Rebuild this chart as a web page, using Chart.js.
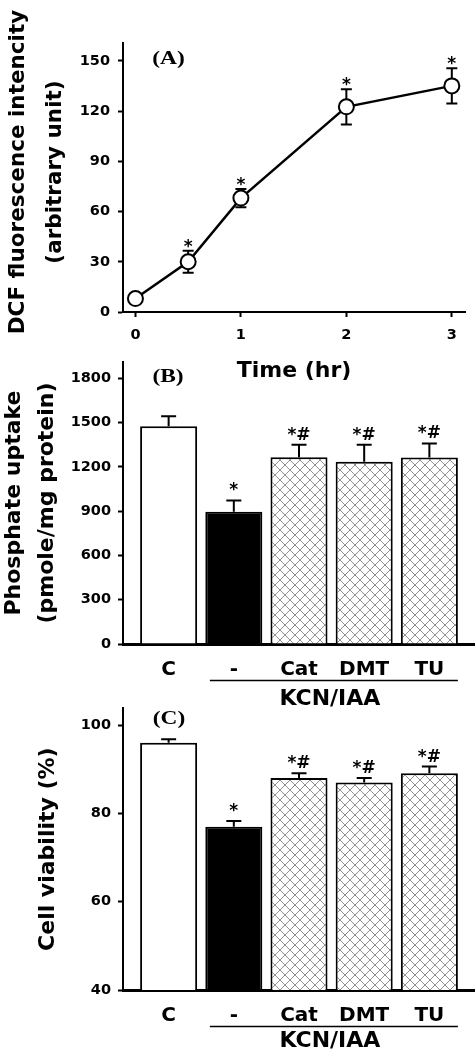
<!DOCTYPE html>
<html>
<head>
<meta charset="utf-8">
<script src="https://cdn.jsdelivr.net/npm/chart.js@4.4.1/dist/chart.umd.min.js"></script>
<style>
  body { margin: 0; background: #fff; }
  #page { position: relative; width: 475px; height: 1056px; overflow: hidden; background: #fff; }
  .panel { position: absolute; left: 0; width: 475px; }
</style>
</head>
<body>
<div id="page">
  <div class="panel" style="top:0;height:390px"><canvas id="chartA"></canvas></div>
  <div class="panel" style="top:320px;height:392px"><canvas id="chartB"></canvas></div>
  <div class="panel" style="top:670px;height:386px"><canvas id="chartC"></canvas></div>
</div>
<script>
// panel A - DCF fluorescence over time
const timePoints = [0, 0.5, 1, 2, 3];
const dcfMean = [8, 30, 68, 122.5, 135];
const dcfErr = [2, 6.5, 5.5, 10.5, 10.5];
const dcfMarks = ['', '*', '*', '*', '*'];
const dcfTicks = [0, 30, 60, 90, 120, 150];
const timeTicks = [0, 1, 2, 3];

// panel B and C - groups
const groups = ['C', '-', 'Cat', 'DMT', 'TU'];
const uptakeMean = [1475, 895, 1265, 1235, 1263];
const uptakeErr = [68, 77, 84, 115, 95];
const uptakeMarks = ['', '*', '*#', '*#', '*#'];
const uptakeTicks = [0, 300, 600, 900, 1200, 1500, 1800];

const viabilityMean = [96, 77, 88, 87, 89.1];
const viabilityErr = [0.8, 1.3, 1.1, 1.0, 1.5];
const viabilityMarks = ['', '*', '*#', '*#', '*#'];
const viabilityTicks = [40, 60, 80, 100];

Chart.defaults.font.family = '"DejaVu Sans", sans-serif';
Chart.defaults.font.weight = 'bold';
Chart.defaults.color = '#000';

// crosshatch fill for the treated bars
function hatch() {
  const n = 10;
  const c = document.createElement('canvas');
  c.width = n; c.height = n;
  const g = c.getContext('2d');
  g.fillStyle = '#fff';
  g.fillRect(0, 0, n, n);
  g.strokeStyle = '#858585';
  g.lineWidth = 0.9;
  g.beginPath();
  g.moveTo(0, 0); g.lineTo(n, n);
  g.moveTo(n, 0); g.lineTo(0, n);
  g.stroke();
  return g.createPattern(c, 'repeat');
}
const cross = hatch();

const extras = {
  id: 'extras',
  beforeDatasetsDraw(chart, args, o) {
    if (!o.err) return;
    const ctx = chart.ctx, y = chart.scales.y;
    const pts = chart.getDatasetMeta(0).data;
    const vals = chart.data.datasets[0].data;
    ctx.save();
    ctx.strokeStyle = '#000';
    ctx.lineWidth = 2;
    pts.forEach((p, i) => {
      const v = vals[i].y, e = o.err[i];
      const top = y.getPixelForValue(v + e);
      const bot = o.both ? y.getPixelForValue(v - e) : p.y;
      ctx.beginPath();
      ctx.moveTo(p.x, bot); ctx.lineTo(p.x, top);
      ctx.moveTo(p.x - o.cap, top); ctx.lineTo(p.x + o.cap, top);
      if (o.both) { ctx.moveTo(p.x - o.cap, bot); ctx.lineTo(p.x + o.cap, bot); }
      ctx.stroke();
    });
    ctx.restore();
  },
  afterDatasetsDraw(chart, args, o) {
    if (!o.marks) return;
    const ctx = chart.ctx, y = chart.scales.y;
    const pts = chart.getDatasetMeta(0).data;
    const vals = chart.data.datasets[0].data;
    ctx.save();
    ctx.fillStyle = '#000';
    ctx.font = 'bold 17px "DejaVu Sans"';
    ctx.textAlign = 'center';
    ctx.textBaseline = 'alphabetic';
    pts.forEach((p, i) => {
      if (!o.marks[i]) return;
      ctx.fillText(o.marks[i], p.x, y.getPixelForValue(vals[i].y + o.err[i]) - o.gap);
    });
    ctx.restore();
  },
  afterDraw(chart, args, o) {
    const ctx = chart.ctx, area = chart.chartArea;
    ctx.save();
    ctx.fillStyle = '#000';
    // panel letter
    if (o.label) {
      ctx.save();
      ctx.translate(area.left + o.label.dx, area.top + o.label.dy);
      ctx.scale(1.3, 1);
      ctx.font = 'bold 18px "Liberation Serif"';
      ctx.textAlign = 'center';
      ctx.textBaseline = 'middle';
      ctx.fillText(o.label.text, 0, 0);
      ctx.restore();
    }
    // long rotated y title (built-in title would squeeze it)
    if (o.sideTitle) {
      const t = o.sideTitle;
      ctx.font = 'bold ' + t.size + 'px "DejaVu Sans"';
      ctx.textAlign = 'center';
      ctx.textBaseline = 'middle';
      t.lines.forEach((line, i) => {
        ctx.save();
        ctx.translate(t.x[i], t.y);
        ctx.rotate(-Math.PI / 2);
        ctx.fillText(line, 0, 0);
        ctx.restore();
      });
    }
    // KCN/IAA bracket under the treated groups
    if (o.bracket) {
      const pts = chart.getDatasetMeta(0).data;
      const bw = pts[1].width;
      const x1 = pts[1].x - bw * 0.42, x2 = pts[4].x + bw * 0.5;
      const yl = area.bottom + o.bracket.dy;
      ctx.strokeStyle = '#000';
      ctx.lineWidth = 1.5;
      ctx.beginPath();
      ctx.moveTo(x1, yl); ctx.lineTo(x2, yl);
      ctx.stroke();
      ctx.font = 'bold 22px "DejaVu Sans"';
      ctx.textAlign = 'center';
      ctx.textBaseline = 'middle';
      ctx.fillText(o.bracket.text, (x1 + x2) / 2 - 4, yl + o.bracket.textDy + 1.5);
    }
    ctx.restore();
  }
};

// use exactly the listed tick values
function setTicks(list) {
  return s => { s.ticks = list.map(v => ({ value: v })); };
}

function yScale(min, max, list, pad) {
  return {
    min: min, max: max,
    afterFit: s => { s.width = 123; },
    afterBuildTicks: setTicks(list),
    ticks: { padding: pad, font: { size: 14.5 }, callback: v => String(v) },
    grid: { drawOnChartArea: false, drawTicks: true, tickLength: 5, tickWidth: 2, tickColor: '#000' },
    border: { display: true, color: '#000', width: 2 }
  };
}

new Chart(document.getElementById('chartA'), {
  type: 'line',
  data: {
    datasets: [{
      data: timePoints.map((t, i) => ({ x: t, y: dcfMean[i] })),
      borderColor: '#000',
      borderWidth: 2.5,
      pointRadius: 7.5,
      pointBackgroundColor: '#fff',
      pointBorderColor: '#000',
      pointBorderWidth: 2,
      tension: 0,
      clip: false
    }]
  },
  options: {
    animation: false,
    responsive: true,
    maintainAspectRatio: false,
    layout: { padding: { top: 43, right: 10, bottom: 6, left: 0 } },
    plugins: {
      legend: { display: false },
      tooltip: { enabled: false },
      extras: {
        err: dcfErr, both: true, cap: 5.5, marks: dcfMarks, gap: -1,
        label: { text: '(A)', dx: 45.5, dy: 16 },
        sideTitle: { lines: ['DCF fluorescence intencity', '(arbitrary unit)'], size: 21.5, x: [18, 55], y: 172 }
      }
    },
    scales: {
      x: {
        type: 'linear', min: -0.118, max: 3.125, offset: false,
        afterFit: s => { s.height = 72; },
        afterBuildTicks: setTicks(timeTicks),
        ticks: { padding: 10, font: { size: 14.5 }, callback: v => String(v) },
        grid: { drawOnChartArea: false, drawTicks: true, tickLength: 5, tickWidth: 2, tickColor: '#000' },
        border: { display: true, color: '#000', width: 2 },
        title: { display: true, text: 'Time (hr)', font: { size: 22 }, padding: { top: 0, bottom: 0 } }
      },
      y: yScale(0, 160.6, dcfTicks, 8)
    }
  },
  plugins: [extras]
});

function barChart(id, mean, err, marks, ticks, yMin, yMax, title, label, textDy) {
  const titleOpts = Array.isArray(title)
    ? { display: true, text: title, font: { size: 22, lineHeight: 1.5 }, padding: { top: -2, bottom: 0 } }
    : { display: true, text: title, font: { size: 22, lineHeight: 1.2 }, padding: { top: 35, bottom: 0 } };
  const y = yScale(yMin, yMax, ticks, 7);
  y.title = titleOpts;
  return new Chart(document.getElementById(id), {
    type: 'bar',
    data: {
      datasets: [{
        data: mean.map((v, i) => ({ x: i + 1, y: v })),
        backgroundColor: ['#fff', '#000', cross, cross, cross],
        borderColor: '#000',
        borderWidth: 2,
        borderSkipped: 'bottom',
        barPercentage: 0.875,
        categoryPercentage: 1
      }]
    },
    options: {
      animation: false,
      responsive: true,
      maintainAspectRatio: false,
      layout: { padding: label.pad },
      plugins: {
        legend: { display: false },
        tooltip: { enabled: false },
        extras: {
          err: err, both: false, cap: 7.5, marks: marks, gap: 5,
          label: { text: label.text, dx: label.dx, dy: label.dy },
          bracket: { text: 'KCN/IAA', dy: 36.5, textDy: textDy }
        }
      },
      scales: {
        x: {
          type: 'linear', min: 0.3, max: 5.7, offset: false,
          afterFit: s => { s.height = label.xh; },
          afterBuildTicks: setTicks(groups.map((g, i) => i + 1)),
          ticks: { padding: 14, font: { size: 20 }, autoSkip: false, maxRotation: 0, callback: v => groups[v - 1] },
          grid: { display: false, drawTicks: false, offset: false },
          border: { display: true, color: '#000', width: 3 }
        },
        y: y
      }
    },
    plugins: [extras]
  });
}

barChart('chartB', uptakeMean, uptakeErr, uptakeMarks, uptakeTicks, 0, 1910,
  ['Phosphate uptake', '(pmole/mg protein)'],
  { text: '(B)', dx: 45, dy: 15, xh: 68, pad: { top: 42, right: 0, bottom: 0, left: 0 } }, 17);

barChart('chartC', viabilityMean, viabilityErr, viabilityMarks, viabilityTicks, 40, 103.8,
  'Cell viability (%)',
  { text: '(C)', dx: 46, dy: 11, xh: 66, pad: { top: 38.3, right: 0, bottom: 0, left: 0 } }, 13.5);
</script>
</body>
</html>
